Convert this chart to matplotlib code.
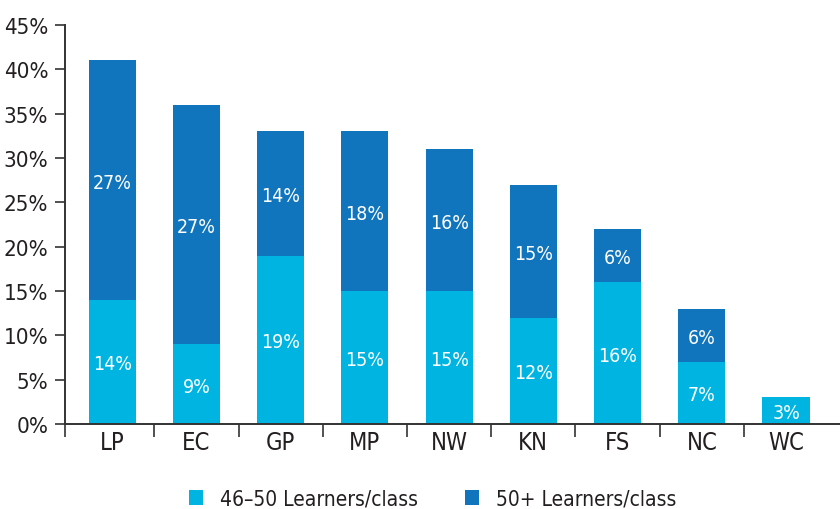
import numpy as np
import matplotlib.pyplot as plt
from matplotlib import font_manager

# Provinces and share of classes by size
provinces = ['LP', 'EC', 'GP', 'MP', 'NW', 'KN', 'FS', 'NC', 'WC']
size_46_50 = [14, 9, 19, 15, 15, 12, 16, 7, 3]
size_50_plus = [27, 27, 14, 18, 16, 15, 6, 6, 0]
series_names = ['46–50 Learners/class', '50+ Learners/class']

light = '#00b4e2'
dark = '#1075bd'
ink = '#231f20'

names = {f.name for f in font_manager.fontManager.ttflist}
fam = 'Liberation Sans Narrow' if 'Liberation Sans Narrow' in names else 'DejaVu Sans'
plt.rcParams['font.family'] = [fam, 'DejaVu Sans']
if fam == 'DejaVu Sans':
    plt.rcParams['font.stretch'] = 'condensed'

fig = plt.figure(figsize=(8.4, 5.1), dpi=100)
ax = fig.add_axes([65 / 840, 85 / 510, 1 - 65 / 840, 399 / 510])

x = np.arange(len(provinces))
b1 = ax.bar(x, size_46_50, width=0.56, color=light, label=series_names[0])
b2 = ax.bar(x, size_50_plus, width=0.56, bottom=size_46_50, color=dark, label=series_names[1])

# value labels inside each segment
for i in range(len(provinces)):
    lo, hi = size_46_50[i], size_50_plus[i]
    if lo > 0:
        ax.text(x[i], lo / 2, f'{lo}%', ha='center', va='center_baseline',
                color='white', fontsize=14)
    if hi > 0:
        ax.text(x[i], lo + hi / 2, f'{hi}%', ha='center', va='center_baseline',
                color='white', fontsize=14)

ax.set_xlim(-0.56, 8.64)
ax.set_ylim(0, 45)
ax.set_yticks(np.arange(0, 46, 5))
ax.set_yticklabels([f'{v}%' for v in range(0, 46, 5)])
ax.set_xticks(x)
ax.set_xticklabels(provinces)
ax.set_xticks(np.r_[-0.56, np.arange(0.5, 8, 1)], minor=True)

for s in ['top', 'right']:
    ax.spines[s].set_visible(False)
for s in ['left', 'bottom']:
    ax.spines[s].set_color('#333333')
    ax.spines[s].set_linewidth(1.4)

ax.tick_params(axis='y', length=7, width=1.2, color='#333333', labelsize=16, labelcolor=ink, pad=5)
ax.tick_params(axis='x', which='major', length=0, labelsize=17, labelcolor=ink, pad=4)
ax.tick_params(axis='x', which='minor', length=9, width=1.2, color='#333333', direction='out')

fig.legend(handles=[b1, b2], loc='center', bbox_to_anchor=(0.515, 0.02), ncol=2,
           frameon=False, fontsize=15, handlelength=0.7, handleheight=0.7,
           handletextpad=0.8, columnspacing=2.25, labelcolor=ink)

fig.savefig('out.png', dpi=100)
